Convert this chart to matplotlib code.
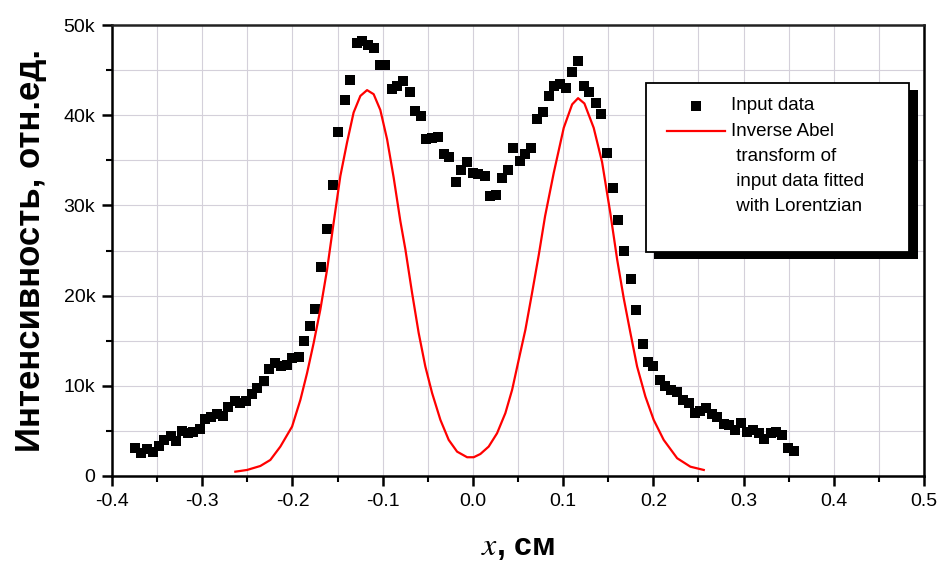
import matplotlib
matplotlib.use("Agg")
import matplotlib.pyplot as plt
from matplotlib.patches import Rectangle
from matplotlib.lines import Line2D
from matplotlib.ticker import MultipleLocator, FuncFormatter

plt.rcParams['font.family'] = ['Liberation Sans', 'DejaVu Sans']
plt.rcParams['axes.unicode_minus'] = False
plt.rcParams['mathtext.fontset'] = 'stix'

# входные данные (x в см, интенсивность в тысячах)
x_data = [-0.375, -0.368, -0.361, -0.355, -0.348, -0.342, -0.335, -0.329, -0.322, -0.316,
          -0.310, -0.303, -0.297, -0.290, -0.284, -0.277, -0.271, -0.264, -0.258, -0.251,
          -0.245, -0.239, -0.232, -0.226, -0.219, -0.213, -0.206, -0.200, -0.193, -0.187,
          -0.180, -0.175, -0.168, -0.162, -0.155, -0.149, -0.142, -0.136, -0.129, -0.123,
          -0.116, -0.110, -0.103, -0.097, -0.090, -0.084, -0.077, -0.070, -0.064, -0.058,
          -0.052, -0.045, -0.039, -0.032, -0.026, -0.019, -0.013, -0.006, 0.000, 0.006,
          0.013, 0.019, 0.026, 0.032, 0.039, 0.045, 0.052, 0.058, 0.064, 0.071,
          0.078, 0.084, 0.090, 0.097, 0.103, 0.110, 0.116, 0.123, 0.129, 0.136,
          0.142, 0.149, 0.155, 0.161, 0.168, 0.175, 0.181, 0.188, 0.194, 0.200,
          0.207, 0.213, 0.220, 0.226, 0.233, 0.239, 0.246, 0.252, 0.258, 0.265,
          0.271, 0.278, 0.284, 0.291, 0.297, 0.304, 0.310, 0.317, 0.323, 0.330,
          0.336, 0.343, 0.349, 0.356]
y_data = [3.14, 2.59, 3.03, 2.70, 3.33, 4.00, 4.44, 3.92, 5.03, 4.74,
          4.92, 5.19, 6.30, 6.52, 6.89, 6.67, 7.63, 8.26, 8.08, 8.26,
          9.11, 9.74, 10.48, 11.86, 12.52, 12.14, 12.33, 13.08, 13.19, 14.92,
          16.67, 18.52, 23.14, 27.41, 32.22, 38.14, 41.70, 43.89, 48.00, 48.26,
          47.78, 47.44, 45.59, 45.59, 42.94, 43.20, 43.81, 42.52, 40.48, 39.92,
          37.41, 37.52, 37.59, 35.67, 35.37, 32.59, 33.92, 34.81, 33.63, 33.44,
          33.26, 31.03, 31.19, 33.00, 33.89, 36.37, 34.92, 35.67, 36.41, 39.56,
          40.37, 42.14, 43.26, 43.44, 42.97, 44.81, 46.00, 43.26, 42.52, 41.33,
          40.08, 35.78, 31.89, 28.33, 24.97, 21.89, 18.37, 14.67, 12.63, 12.22,
          10.67, 10.03, 9.56, 9.26, 8.44, 8.14, 7.03, 7.22, 7.52, 6.86,
          6.52, 5.74, 5.67, 5.11, 5.86, 4.92, 5.11, 4.74, 4.08, 4.81,
          4.92, 4.56, 3.14, 2.81]

# обратное преобразование Абеля (аппроксимация Лоренцем)
x_fit = [-0.2633, -0.2503, -0.2356, -0.2245, -0.2134, -0.2004, -0.1912, -0.1838, -0.1765,
         -0.1691, -0.1616, -0.1543, -0.1469, -0.1395, -0.1322, -0.1247, -0.1173, -0.1100,
         -0.1026, -0.0951, -0.0878, -0.0804, -0.0748, -0.0674, -0.0601, -0.0527, -0.0452,
         -0.0360, -0.0268, -0.0175, -0.0064, 0.0009, 0.0083, 0.0175, 0.0268, 0.0360,
         0.0435, 0.0508, 0.0582, 0.0656, 0.0730, 0.0800, 0.0896, 0.1007, 0.1100, 0.1166,
         0.1236, 0.1339, 0.1432, 0.1524, 0.1599, 0.1672, 0.1746, 0.1820, 0.1912, 0.2004,
         0.2115, 0.2264, 0.2411, 0.2559]
y_fit = [0.48, 0.67, 1.11, 1.78, 3.26, 5.48, 8.44, 11.41, 14.74,
         18.44, 22.89, 28.11, 33.26, 36.97, 40.30, 42.14, 42.78, 42.33,
         40.58, 37.33, 33.08, 28.26, 25.11, 20.30, 15.86, 12.14, 9.19,
         6.22, 4.00, 2.70, 2.08, 2.08, 2.44, 3.26, 4.74, 6.97,
         9.56, 12.89, 16.22, 20.30, 24.50, 28.80, 33.60, 38.60, 41.20, 41.89,
         41.30, 38.60, 34.80, 29.10, 24.00, 19.70, 15.86, 12.14, 8.81, 6.22,
         4.00, 1.97, 1.03, 0.67]

W, H = 942, 568
fig = plt.figure(figsize=(W / 100, H / 100), dpi=100)
ax = fig.add_axes([112 / W, 1 - 476 / H, (924 - 112) / W, (476 - 25) / H])

ax.plot(x_data, y_data, 's', color='black', markersize=6.6, markeredgewidth=0, zorder=3)
ax.plot(x_fit, y_fit, '-', color='#ff0000', linewidth=1.6, zorder=4)

ax.set_xlim(-0.4, 0.5)
ax.set_ylim(0, 50)
ax.xaxis.set_major_locator(MultipleLocator(0.1))
ax.xaxis.set_minor_locator(MultipleLocator(0.05))
ax.yaxis.set_major_locator(MultipleLocator(10))
ax.yaxis.set_minor_locator(MultipleLocator(5))
ax.xaxis.set_major_formatter(FuncFormatter(lambda v, p: f"{v:.1f}"))
ax.yaxis.set_major_formatter(FuncFormatter(lambda v, p: f"{v:.0f}k" if v > 0 else "0"))

ax.grid(True, which='both', color='#d4d0da', linewidth=0.8)
ax.set_axisbelow(True)
ax.tick_params(which='major', direction='out', length=7, width=1.8, labelsize=14, pad=5)
ax.tick_params(which='minor', direction='out', length=4, width=1.5)
for s in ax.spines.values():
    s.set_linewidth(1.8)
ax.spines['top'].set_color('#222222')

ax.set_ylabel('Интенсивность, отн.ед.', fontsize=25, fontweight='bold', labelpad=12)
ax.set_xlabel(r'$\mathit{x}$, см', fontsize=23, fontweight='bold', labelpad=16)

# легенда с тенью
def fx(p):
    return p / W

def fy(p):
    return 1 - p / H

fig.add_artist(Rectangle((fx(654), fy(259)), fx(918) - fx(654), fy(90) - fy(259),
                         transform=fig.transFigure, facecolor='black', edgecolor='none', zorder=5))
fig.add_artist(Rectangle((fx(646), fy(252)), fx(909) - fx(646), fy(83) - fy(252),
                         transform=fig.transFigure, facecolor='white', edgecolor='black',
                         linewidth=1.3, zorder=6))
fig.add_artist(Line2D([fx(696)], [fy(106)], marker='s', color='black', markersize=6.6,
                      markeredgewidth=0, transform=fig.transFigure, zorder=7))
fig.add_artist(Line2D([fx(667), fx(725)], [fy(131), fy(131)], color='#ff0000', linewidth=1.6,
                      transform=fig.transFigure, zorder=7))
fig.text(fx(731), fy(106), 'Input data', fontsize=13.5, va='center', ha='left', zorder=8)
leg_lines = ['Inverse Abel', ' transform of', ' input data fitted', ' with Lorentzian']
for i, t in enumerate(leg_lines):
    fig.text(fx(731), fy(131 + 25 * i), t, fontsize=13.5, va='center', ha='left', zorder=8)

plt.savefig('out.png', dpi=100)
